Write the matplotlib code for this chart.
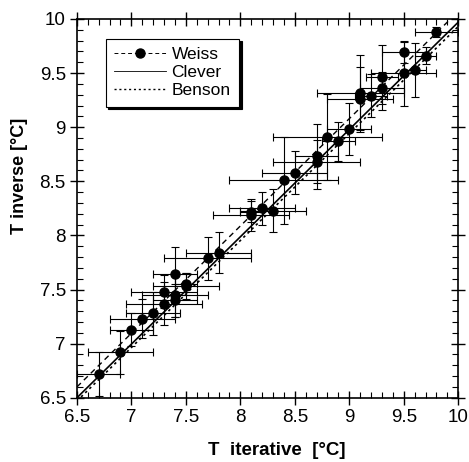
import matplotlib
matplotlib.use('Agg')
import matplotlib.pyplot as plt
import numpy as np
from matplotlib.ticker import MultipleLocator

plt.rcParams['font.family'] = ['Liberation Sans', 'DejaVu Sans']

# Weiss points (iterative vs inverse temperature)
t_iter = [6.70, 6.90, 7.00, 7.10, 7.20, 7.30, 7.30, 7.40, 7.40, 7.40, 7.50, 7.50,
          7.70, 7.80, 8.10, 8.10, 8.20, 8.30, 8.40, 8.50, 8.70, 8.70, 8.80, 8.90,
          9.00, 9.10, 9.10, 9.20, 9.30, 9.30, 9.50, 9.50, 9.60, 9.70, 9.80]
t_inv = [6.72, 6.92, 7.13, 7.23, 7.28, 7.37, 7.48, 7.64, 7.45, 7.40, 7.53, 7.55,
         7.79, 7.84, 8.19, 8.22, 8.25, 8.23, 8.51, 8.58, 8.73, 8.68, 8.91, 8.87,
         8.98, 9.32, 9.26, 9.29, 9.36, 9.46, 9.69, 9.50, 9.53, 9.66, 9.88]
x_err = [0.20, 0.30, 0.20, 0.30, 0.25, 0.35, 0.30, 0.20, 0.30, 0.20, 0.30, 0.10,
         0.40, 0.30, 0.35, 0.10, 0.30, 0.30, 0.50, 0.30, 0.20, 0.40, 0.50, 0.15,
         0.20, 0.40, 0.30, 0.15, 0.20, 0.15, 0.20, 0.30, 0.10, 0.10, 0.20]
y_err = [0.20, 0.20, 0.15, 0.18, 0.20, 0.20, 0.15, 0.25, 0.20, 0.15, 0.12, 0.10,
         0.20, 0.19, 0.15, 0.10, 0.15, 0.20, 0.40, 0.20, 0.30, 0.20, 0.40, 0.18,
         0.24, 0.35, 0.30, 0.20, 0.15, 0.30, 0.10, 0.30, 0.25, 0.08, 0.05]

# fitted lines: end points
line_x = [6.5, 10.0]
weiss_y = [6.60, 10.07]
clever_y = [6.50, 9.97]
benson_y = [6.47, 9.93]

fig = plt.figure(figsize=(4.69, 4.62), dpi=100)
ax = fig.add_axes([0.164, 0.139, 0.813, 0.82])

ax.errorbar(t_iter, t_inv, xerr=x_err, yerr=y_err, fmt='none', ecolor='black',
            elinewidth=0.8, capsize=3, capthick=0.8, zorder=2)
ax.plot(line_x, weiss_y, color='black', linestyle=(0, (4, 3)), linewidth=1.0, zorder=3)
ax.plot(line_x, clever_y, color='black', linestyle='-', linewidth=1.2, zorder=3)
ax.plot(line_x, benson_y, color='black', linestyle=(0, (1.5, 2)), linewidth=1.2, zorder=3)
ax.plot(t_iter, t_inv, 'o', color='black', markersize=6.5, zorder=4)

# legend handles
h1, = ax.plot([], [], color='black', linestyle=(0, (4, 3)), linewidth=0.7,
              marker='o', markersize=6.5, label='Weiss')
h2, = ax.plot([], [], color='black', linestyle='-', linewidth=0.6, label='Clever')
h3, = ax.plot([], [], color='black', linestyle=(0, (1.5, 2)), linewidth=1.0, label='Benson')
leg = ax.legend(handles=[h1, h2, h3], loc='upper left', bbox_to_anchor=(0.075, 0.948),
                fontsize=12.5, frameon=True, fancybox=False, shadow={'color': 'black', 'alpha': 1},
                edgecolor='black', framealpha=1, handlelength=3.0, borderpad=0.5,
                labelspacing=0.15, handletextpad=0.3, borderaxespad=0)
leg.get_frame().set_linewidth(0.8)

ax.set_xlim(6.5, 10)
ax.set_ylim(6.5, 10)
ax.xaxis.set_major_locator(MultipleLocator(0.5))
ax.yaxis.set_major_locator(MultipleLocator(0.5))
ax.xaxis.set_minor_locator(MultipleLocator(0.1))
ax.yaxis.set_minor_locator(MultipleLocator(0.1))
ax.xaxis.set_major_formatter(plt.FuncFormatter(lambda v, p: f'{v:g}'))
ax.yaxis.set_major_formatter(plt.FuncFormatter(lambda v, p: f'{v:g}'))
ax.tick_params(which='major', direction='inout', length=10, width=1.0,
               top=True, right=True, labelsize=13.5, pad=3)
ax.tick_params(which='minor', direction='in', length=4, width=0.8, top=True, right=True)
for s in ax.spines.values():
    s.set_linewidth(1.2)

ax.set_xlabel('T  iterative  [°C]', fontsize=13.5, fontweight='bold')
ax.set_ylabel('T inverse [°C]', fontsize=13, fontweight='bold')
ax.xaxis.set_label_coords(0.524, -0.118)
ax.yaxis.set_label_coords(-0.127, 0.586)

fig.savefig('out.png', dpi=100)
